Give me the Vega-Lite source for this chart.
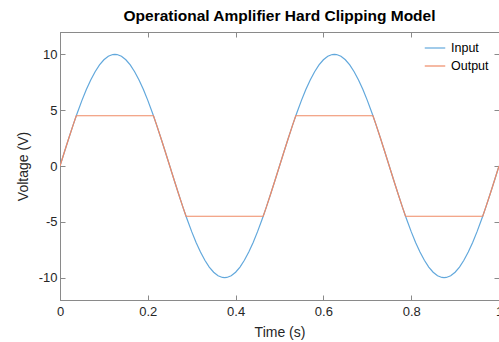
{
  "$schema": "https://vega.github.io/schema/vega-lite/v6.json",
  "width": 439,
  "height": 268,
  "autosize": {"type": "none"},
  "padding": {"left": 60, "top": 32, "right": 0, "bottom": 42},
  "background": "white",
  "title": {
    "text": "Operational Amplifier Hard Clipping Model",
    "font": "Liberation Sans",
    "fontSize": 15.5,
    "fontWeight": "bold",
    "color": "#000000",
    "anchor": "middle",
    "offset": 7
  },
  "config": {
    "view": {"stroke": "#8a8a8a", "strokeWidth": 1},
    "axis": {
      "domainColor": "#8a8a8a",
      "tickColor": "#8a8a8a",
      "labelColor": "#262626",
      "titleColor": "#262626",
      "labelFont": "Liberation Sans",
      "titleFont": "Liberation Sans",
      "labelFontSize": 13,
      "titleFontSize": 14,
      "titleFontWeight": "normal",
      "labelFlush": false,
      "grid": false
    }
  },
  "data": {
    "values": [
      {"t": 0, "Input": 0, "Output": 0},
      {"t": 0.01, "Input": 1.253, "Output": 1.253},
      {"t": 0.02, "Input": 2.487, "Output": 2.487},
      {"t": 0.03, "Input": 3.681, "Output": 3.681},
      {"t": 0.0371, "Input": 4.5, "Output": 4.5},
      {"t": 0.04, "Input": 4.818, "Output": 4.5},
      {"t": 0.05, "Input": 5.878, "Output": 4.5},
      {"t": 0.06, "Input": 6.845, "Output": 4.5},
      {"t": 0.07, "Input": 7.705, "Output": 4.5},
      {"t": 0.08, "Input": 8.443, "Output": 4.5},
      {"t": 0.09, "Input": 9.048, "Output": 4.5},
      {"t": 0.1, "Input": 9.511, "Output": 4.5},
      {"t": 0.11, "Input": 9.823, "Output": 4.5},
      {"t": 0.12, "Input": 9.98, "Output": 4.5},
      {"t": 0.125, "Input": 10, "Output": 4.5},
      {"t": 0.13, "Input": 9.98, "Output": 4.5},
      {"t": 0.14, "Input": 9.823, "Output": 4.5},
      {"t": 0.15, "Input": 9.511, "Output": 4.5},
      {"t": 0.16, "Input": 9.048, "Output": 4.5},
      {"t": 0.17, "Input": 8.443, "Output": 4.5},
      {"t": 0.18, "Input": 7.705, "Output": 4.5},
      {"t": 0.19, "Input": 6.845, "Output": 4.5},
      {"t": 0.2, "Input": 5.878, "Output": 4.5},
      {"t": 0.21, "Input": 4.818, "Output": 4.5},
      {"t": 0.2129, "Input": 4.5, "Output": 4.5},
      {"t": 0.22, "Input": 3.681, "Output": 3.681},
      {"t": 0.23, "Input": 2.487, "Output": 2.487},
      {"t": 0.24, "Input": 1.253, "Output": 1.253},
      {"t": 0.25, "Input": 0, "Output": 0},
      {"t": 0.26, "Input": -1.253, "Output": -1.253},
      {"t": 0.27, "Input": -2.487, "Output": -2.487},
      {"t": 0.28, "Input": -3.681, "Output": -3.681},
      {"t": 0.2871, "Input": -4.5, "Output": -4.5},
      {"t": 0.29, "Input": -4.818, "Output": -4.5},
      {"t": 0.3, "Input": -5.878, "Output": -4.5},
      {"t": 0.31, "Input": -6.845, "Output": -4.5},
      {"t": 0.32, "Input": -7.705, "Output": -4.5},
      {"t": 0.33, "Input": -8.443, "Output": -4.5},
      {"t": 0.34, "Input": -9.048, "Output": -4.5},
      {"t": 0.35, "Input": -9.511, "Output": -4.5},
      {"t": 0.36, "Input": -9.823, "Output": -4.5},
      {"t": 0.37, "Input": -9.98, "Output": -4.5},
      {"t": 0.375, "Input": -10, "Output": -4.5},
      {"t": 0.38, "Input": -9.98, "Output": -4.5},
      {"t": 0.39, "Input": -9.823, "Output": -4.5},
      {"t": 0.4, "Input": -9.511, "Output": -4.5},
      {"t": 0.41, "Input": -9.048, "Output": -4.5},
      {"t": 0.42, "Input": -8.443, "Output": -4.5},
      {"t": 0.43, "Input": -7.705, "Output": -4.5},
      {"t": 0.44, "Input": -6.845, "Output": -4.5},
      {"t": 0.45, "Input": -5.878, "Output": -4.5},
      {"t": 0.46, "Input": -4.818, "Output": -4.5},
      {"t": 0.4629, "Input": -4.5, "Output": -4.5},
      {"t": 0.47, "Input": -3.681, "Output": -3.681},
      {"t": 0.48, "Input": -2.487, "Output": -2.487},
      {"t": 0.49, "Input": -1.253, "Output": -1.253},
      {"t": 0.5, "Input": 0, "Output": 0},
      {"t": 0.51, "Input": 1.253, "Output": 1.253},
      {"t": 0.52, "Input": 2.487, "Output": 2.487},
      {"t": 0.53, "Input": 3.681, "Output": 3.681},
      {"t": 0.5371, "Input": 4.5, "Output": 4.5},
      {"t": 0.54, "Input": 4.818, "Output": 4.5},
      {"t": 0.55, "Input": 5.878, "Output": 4.5},
      {"t": 0.56, "Input": 6.845, "Output": 4.5},
      {"t": 0.57, "Input": 7.705, "Output": 4.5},
      {"t": 0.58, "Input": 8.443, "Output": 4.5},
      {"t": 0.59, "Input": 9.048, "Output": 4.5},
      {"t": 0.6, "Input": 9.511, "Output": 4.5},
      {"t": 0.61, "Input": 9.823, "Output": 4.5},
      {"t": 0.62, "Input": 9.98, "Output": 4.5},
      {"t": 0.625, "Input": 10, "Output": 4.5},
      {"t": 0.63, "Input": 9.98, "Output": 4.5},
      {"t": 0.64, "Input": 9.823, "Output": 4.5},
      {"t": 0.65, "Input": 9.511, "Output": 4.5},
      {"t": 0.66, "Input": 9.048, "Output": 4.5},
      {"t": 0.67, "Input": 8.443, "Output": 4.5},
      {"t": 0.68, "Input": 7.705, "Output": 4.5},
      {"t": 0.69, "Input": 6.845, "Output": 4.5},
      {"t": 0.7, "Input": 5.878, "Output": 4.5},
      {"t": 0.71, "Input": 4.818, "Output": 4.5},
      {"t": 0.7129, "Input": 4.5, "Output": 4.5},
      {"t": 0.72, "Input": 3.681, "Output": 3.681},
      {"t": 0.73, "Input": 2.487, "Output": 2.487},
      {"t": 0.74, "Input": 1.253, "Output": 1.253},
      {"t": 0.75, "Input": 0, "Output": 0},
      {"t": 0.76, "Input": -1.253, "Output": -1.253},
      {"t": 0.77, "Input": -2.487, "Output": -2.487},
      {"t": 0.78, "Input": -3.681, "Output": -3.681},
      {"t": 0.7871, "Input": -4.5, "Output": -4.5},
      {"t": 0.79, "Input": -4.818, "Output": -4.5},
      {"t": 0.8, "Input": -5.878, "Output": -4.5},
      {"t": 0.81, "Input": -6.845, "Output": -4.5},
      {"t": 0.82, "Input": -7.705, "Output": -4.5},
      {"t": 0.83, "Input": -8.443, "Output": -4.5},
      {"t": 0.84, "Input": -9.048, "Output": -4.5},
      {"t": 0.85, "Input": -9.511, "Output": -4.5},
      {"t": 0.86, "Input": -9.823, "Output": -4.5},
      {"t": 0.87, "Input": -9.98, "Output": -4.5},
      {"t": 0.875, "Input": -10, "Output": -4.5},
      {"t": 0.88, "Input": -9.98, "Output": -4.5},
      {"t": 0.89, "Input": -9.823, "Output": -4.5},
      {"t": 0.9, "Input": -9.511, "Output": -4.5},
      {"t": 0.91, "Input": -9.048, "Output": -4.5},
      {"t": 0.92, "Input": -8.443, "Output": -4.5},
      {"t": 0.93, "Input": -7.705, "Output": -4.5},
      {"t": 0.94, "Input": -6.845, "Output": -4.5},
      {"t": 0.95, "Input": -5.878, "Output": -4.5},
      {"t": 0.96, "Input": -4.818, "Output": -4.5},
      {"t": 0.9629, "Input": -4.5, "Output": -4.5},
      {"t": 0.97, "Input": -3.681, "Output": -3.681},
      {"t": 0.98, "Input": -2.487, "Output": -2.487},
      {"t": 0.99, "Input": -1.253, "Output": -1.253},
      {"t": 1.0, "Input": 0, "Output": 0}
    ]
  },
  "transform": [
    {"fold": ["Input", "Output"], "as": ["series", "v"]}
  ],
  "layer": [
    {
      "mark": {"type": "line", "strokeWidth": 1.2, "clip": true},
      "encoding": {
        "x": {
          "field": "t",
          "type": "quantitative",
          "scale": {"domain": [0, 1], "nice": false},
          "axis": {
            "title": "Time (s)",
            "values": [0, 0.2, 0.4, 0.6, 0.8, 1],
            "labelExpr": "toString(datum.value)",
            "tickSize": -5,
            "labelPadding": 10,
            "titlePadding": 7
          }
        },
        "y": {
          "field": "v",
          "type": "quantitative",
          "scale": {"domain": [-12, 12], "nice": false},
          "axis": {
            "title": "Voltage (V)",
            "values": [-10, -5, 0, 5, 10],
            "labelExpr": "toString(datum.value)",
            "tickSize": -5,
            "labelPadding": 8,
            "titlePadding": 8
          }
        },
        "color": {
          "field": "series",
          "type": "nominal",
          "scale": {"domain": ["Input", "Output"], "range": ["#62a8dc", "#ef8a66"]},
          "legend": {
            "title": null,
            "orient": "none",
            "legendX": 364,
            "legendY": 5,
            "symbolType": "stroke",
            "symbolSize": 420,
            "symbolStrokeWidth": 1.2,
            "labelFont": "Liberation Sans",
            "labelFontSize": 12.5,
            "labelColor": "#000000",
            "rowPadding": -7,
            "labelOffset": 5
          }
        }
      }
    },
    {
      "mark": {"type": "point", "opacity": 0},
      "encoding": {
        "x": {
          "field": "t",
          "type": "quantitative",
          "axis": {"orient": "top", "title": null, "labels": false, "values": [0, 0.2, 0.4, 0.6, 0.8, 1], "tickSize": -5}
        },
        "y": {
          "field": "v",
          "type": "quantitative",
          "axis": {"orient": "right", "title": null, "labels": false, "values": [-10, -5, 0, 5, 10], "tickSize": -5}
        }
      }
    }
  ],
  "resolve": {"axis": {"x": "independent", "y": "independent"}}
}
